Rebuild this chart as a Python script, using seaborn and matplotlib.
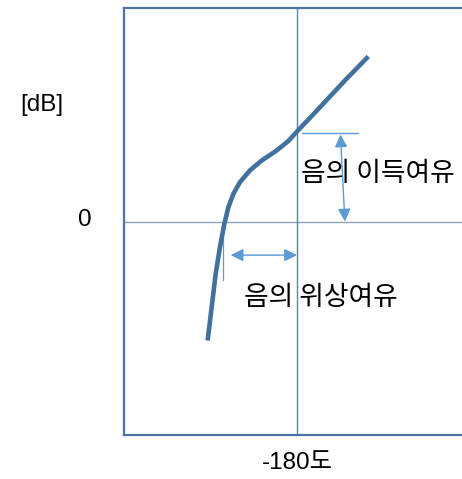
import matplotlib
matplotlib.use("Agg")
import matplotlib.pyplot as plt
from matplotlib.transforms import ScaledTranslation
import seaborn as sns
import pandas as pd

# Open-loop frequency response on the gain-phase plane
phase_deg = [-226.5, -224.4, -222.3, -220.1, -217.8, -215.7, -213.1, -209.7, -204.5,
             -198.4, -190.6, -184.5, -180.0, -175.8, -171.5, -162.8, -154.1, -142.9]
gain_db = [-11.15, -8.03, -4.90, -2.41, -0.22, 1.34, 2.59, 3.68, 4.78,
           5.71, 6.65, 7.54, 8.43, 9.23, 10.04, 11.72, 13.39, 15.46]

# Margins
crossover_phase = -217.5   # phase where gain crosses 0 dB
gain_at_minus180 = 8.3     # gain where phase reaches -180 degrees

x_tick_labels = ["-180도"]
y_tick_labels = ["0"]
gain_margin_label = "음의 이득여유"
phase_margin_label = "음의 위상여유"
unit_label = "[dB]"

sns.set_theme(style="white")
plt.rcParams["font.family"] = ["Liberation Sans", "Noto Sans CJK KR", "DejaVu Sans"]
plt.rcParams["text.color"] = "black"
plt.rcParams["xtick.color"] = "black"
plt.rcParams["ytick.color"] = "black"

fig = plt.figure(figsize=(4.62, 4.79), dpi=100)
ax = fig.add_axes([124 / 462, 44 / 479, 346 / 462, 427 / 479])
ax.set_xlim(-270, -90)
ax.set_ylim(-20, 20)

spine_color = "#4a72a6"
for side in ("left", "bottom", "top"):
    ax.spines[side].set_color(spine_color)
    ax.spines[side].set_linewidth(1.6)
ax.spines["right"].set_visible(False)

# Reference lines: 0 dB and -180 degrees
ax.axhline(0, color="#8fa3bb", lw=1.0, zorder=1)
ax.axvline(-180, color="#4f84c4", lw=1.0, zorder=1)

df = pd.DataFrame({"phase": phase_deg, "gain": gain_db})
sns.lineplot(data=df, x="phase", y="gain", sort=False, ax=ax,
             color="#41719c", lw=3.3, zorder=3)
ax.lines[-1].set_solid_capstyle("butt")
ax.lines[-1].set_solid_joinstyle("round")

arrow_color = "#5b9bd5"
arrow_style = dict(arrowstyle="<|-|>", color=arrow_color, lw=1.0,
                   mutation_scale=19, shrinkA=0, shrinkB=0)

# Gain margin: tick at the -180 crossing gain and a vertical double arrow
ax.plot([-177.5, -148.5], [gain_at_minus180, gain_at_minus180], color=arrow_color, lw=1.0, zorder=2)
ax.annotate("", xy=(-157.4, gain_at_minus180 - 0.15), xytext=(-155.1, 0.0),
            arrowprops=arrow_style, zorder=4)

# Phase margin: tick at the 0 dB crossover and a horizontal double arrow
ax.plot([crossover_phase - 1.1, crossover_phase - 1.1], [0, -5.5], color=arrow_color, lw=0.9, zorder=2)
ax.annotate("", xy=(crossover_phase + 3.0, -3.15), xytext=(-180, -3.15),
            arrowprops=arrow_style, zorder=4)

ax.text(-177.8, 4.5, gain_margin_label, fontsize=19.3, va="center", ha="left",
        family=["Noto Sans CJK KR"])
ax.text(-207.5, -7.1, phase_margin_label, fontsize=19.3, va="center", ha="left",
        family=["Noto Sans CJK KR"])

ax.set_xticks([-180])
ax.set_xticklabels(x_tick_labels, fontsize=17.5)
ax.set_yticks([0])
ax.set_yticklabels(y_tick_labels, fontsize=17.5)
ax.tick_params(axis="x", length=0, pad=12)
ax.tick_params(axis="y", length=0, pad=23)
for lbl in ax.get_yticklabels():
    lbl.set_transform(lbl.get_transform() + ScaledTranslation(0, 4 / 100, fig.dpi_scale_trans))
ax.set_xlabel("")
ax.set_ylabel("")

fig.text(42 / 462, 1 - 105 / 479, unit_label, fontsize=17.5, ha="center", va="center")

fig.savefig("out.png", dpi=100)
